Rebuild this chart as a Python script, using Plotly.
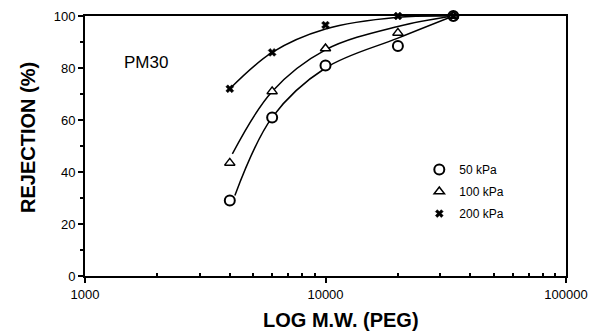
import plotly.graph_objects as go

mw = [4000, 6000, 10000, 20000, 34000]
rej_50 = [29, 61, 81, 88.5, 100]
rej_100 = [43.5, 71, 87.5, 93.5, 100]
rej_200 = [72, 86, 96.5, 100, 100]

fit_x_50 = [4200, 6000, 10000, 20000, 34000]
fit_50 = [31, 61, 80, 91.5, 100]
fit_x_100 = [4100, 6000, 10000, 20000, 34000]
fit_100 = [47, 71, 87, 96, 100]
fit_x_200 = [4000, 6000, 10000, 20000, 34000]
fit_200 = [72, 86, 95, 99.5, 100]

xtick_vals = [1000, 10000, 100000]
xtick_text = ["1000", "10000", "100000"]
xminor_vals = [2000, 3000, 4000, 5000, 6000, 7000, 8000, 9000,
               20000, 30000, 40000, 50000, 60000, 70000, 80000, 90000]
ytick_vals = [0, 20, 40, 60, 80, 100]
yminor_vals = [10, 30, 50, 70, 90]

FONT = "Arial, 'Liberation Sans', sans-serif"

fig = go.Figure()
for fx, fy in [(fit_x_50, fit_50), (fit_x_100, fit_100), (fit_x_200, fit_200)]:
    fig.add_trace(go.Scatter(x=fx, y=fy, mode="lines", line=dict(color="black", width=1.5, shape="spline"),
                             showlegend=False, hoverinfo="skip", cliponaxis=False))

fig.add_trace(go.Scatter(x=mw, y=rej_50, mode="markers", name="50 kPa", legendgroup="a",
                         marker=dict(symbol="circle", size=10, color="white", line=dict(color="black", width=2)),
                         cliponaxis=False))
fig.add_trace(go.Scatter(x=mw, y=rej_100, mode="markers", name="100 kPa", legendgroup="b",
                         marker=dict(symbol="triangle-up", size=9, color="white", line=dict(color="black", width=1.5)),
                         cliponaxis=False))
fig.add_trace(go.Scatter(x=mw, y=rej_200, mode="markers", name="200 kPa", legendgroup="c",
                         marker=dict(symbol="x", size=7, color="black", line=dict(color="black", width=0.5)),
                         cliponaxis=False))

fig.add_annotation(x=0.077, y=0.82, xref="paper", yref="paper", text="PM30", showarrow=False,
                   font=dict(family=FONT, size=17, color="black"), xanchor="left", yanchor="middle")
fig.add_annotation(x=341, y=332 - 320, xref="paper", yref="paper", text="<b>LOG M.W. (PEG)</b>",
                   showarrow=False, font=dict(family=FONT, size=20, color="black"),
                   xanchor="center", yanchor="middle")
fig.add_annotation(x=28, y=332 - 138, xref="paper", yref="paper", text="<b>REJECTION (%)</b>",
                   showarrow=False, textangle=-90, font=dict(family=FONT, size=20, color="black"),
                   xanchor="center", yanchor="middle")

# convert pixel positions of the title annotations into paper coordinates
L, R, T, B = 85, 29, 16, 56
pw, ph = 595 - L - R, 332 - T - B
for a in fig.layout.annotations[1:]:
    a.x = (a.x - L) / pw
    a.y = (a.y - B) / ph

fig.update_layout(
    width=595, height=332,
    margin=dict(l=L, r=R, t=T, b=B, autoexpand=False),
    paper_bgcolor="white", plot_bgcolor="white",
    font=dict(family=FONT, size=13, color="black"),
    legend=dict(x=0.695, y=0.465, xanchor="left", yanchor="top", bgcolor="rgba(0,0,0,0)",
                font=dict(family=FONT, size=12), tracegroupgap=3, itemsizing="trace"),
    xaxis=dict(type="log", range=[3, 5], tickvals=xtick_vals, ticktext=xtick_text,
               showline=True, linecolor="black", linewidth=2, mirror=True, showgrid=False,
               ticks="outside", ticklen=5, tickwidth=2, tickcolor="black",
               tickfont=dict(family=FONT, size=13), automargin=False,
               minor=dict(ticks="inside", ticklen=3, tickwidth=1.5, tickcolor="black",
                          tickvals=xminor_vals, showgrid=False),
               zeroline=False),
    yaxis=dict(range=[0, 100], tickvals=ytick_vals,
               showline=True, linecolor="black", linewidth=2, mirror=True, showgrid=False,
               ticks="outside", ticklen=5, tickwidth=2, tickcolor="black",
               tickfont=dict(family=FONT, size=13), automargin=False,
               minor=dict(ticks="outside", ticklen=3, tickwidth=1.5, tickcolor="black",
                          tickvals=yminor_vals, showgrid=False),
               zeroline=False),
)

fig.write_html("out.html")
